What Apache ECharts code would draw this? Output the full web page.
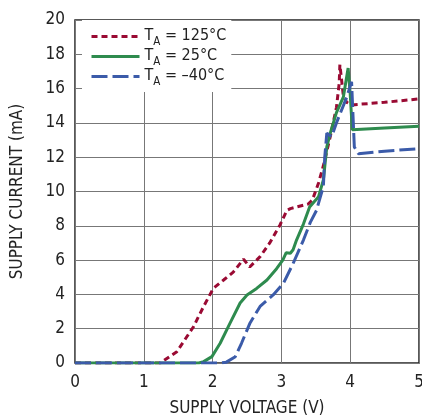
<!DOCTYPE html>
<html><head><meta charset="utf-8">
<script src="https://cdn.jsdelivr.net/npm/echarts@6/dist/echarts.min.js"></script>
<style>html,body{margin:0;padding:0;background:#fff}#c{width:422px;height:417px}</style>
</head><body><div id="c"></div>
<script>
const xTicks = [0, 1, 2, 3, 4, 5];
const yTicks = [0, 2, 4, 6, 8, 10, 12, 14, 16, 18, 20];
const names = ['125°C', '25°C', '–40°C'];

const x125 = [0, 1.0, 1.24, 1.48, 1.72, 1.87, 2.01, 2.16, 2.30, 2.45, 2.54, 2.69, 2.83, 2.98, 3.08, 3.13, 3.39, 3.45, 3.54, 3.61, 3.71, 3.80, 3.84, 3.85, 3.90, 3.95, 4.02, 4.5, 5.0];
const y125 = [0, 0, 0, 0.66, 2.1, 3.3, 4.35, 4.84, 5.3, 6.05, 5.6, 6.2, 7.0, 8.05, 8.9, 9.0, 9.27, 9.5, 10.5, 11.5, 13.2, 14.9, 16.3, 17.4, 15.6, 15.2, 15.05, 15.2, 15.4];

const x25 = [0, 1.8, 1.87, 1.99, 2.11, 2.25, 2.40, 2.50, 2.64, 2.79, 2.93, 3.02, 3.07, 3.13, 3.17, 3.22, 3.32, 3.41, 3.54, 3.61, 3.66, 3.71, 3.80, 3.90, 3.97, 4.0, 4.03, 4.5, 5.0];
const y25 = [0, 0, 0.08, 0.37, 1.15, 2.3, 3.5, 3.97, 4.35, 4.84, 5.5, 6.0, 6.43, 6.4, 6.6, 7.17, 8.1, 9.1, 9.7, 10.67, 12.6, 13.4, 14.6, 15.5, 17.2, 15.7, 13.6, 13.7, 13.8];

const xm40 = [0, 2.1, 2.2, 2.33, 2.42, 2.54, 2.69, 2.88, 3.03, 3.17, 3.32, 3.42, 3.51, 3.61, 3.63, 3.66, 3.73, 3.80, 3.95, 4.02, 4.06, 4.12, 4.5, 5.0];
const ym40 = [0, 0, 0.05, 0.37, 1.15, 2.3, 3.3, 3.97, 4.65, 5.8, 7.17, 8.2, 8.9, 10.3, 12.0, 13.4, 13.2, 14.0, 15.5, 16.4, 12.6, 12.2, 12.35, 12.5];

const FONT = "'Liberation Sans Narrow', 'DejaVu Sans Condensed', 'Liberation Sans', sans-serif";
const pairs = (xs, ys) => xs.map((x, i) => [x, ys[i]]);

const chart = echarts.init(document.getElementById('c'), null, {renderer: 'canvas'});
chart.setOption({
  animation: false,
  backgroundColor: '#fff',
  textStyle: {fontFamily: FONT},
  grid: {left: 75, right: 3, top: 20, bottom: 54, containLabel: false, outerBoundsMode: 'none',
         show: true, borderColor: '#222', borderWidth: 1.5, backgroundColor: 'transparent'},
  legend: {
    orient: 'vertical', left: 82, top: 20,
    padding: [8, 5, 4, 8],
    backgroundColor: '#fff',
    itemWidth: 48, itemHeight: 14, itemGap: 0,
    itemStyle: {opacity: 0},
    lineStyle: {width: 3},
    data: names.map(n => ({name: n})),
    formatter: n => '{t|T}{s|A}{t| = ' + n + '}',
    textStyle: {
      fontFamily: FONT, color: '#222',
      rich: {
        t: {fontSize: 16, fontFamily: FONT, color: '#222', lineHeight: 17, verticalAlign: 'top'},
        s: {fontSize: 11.5, fontFamily: FONT, color: '#222', lineHeight: 12, verticalAlign: 'top', padding: [8, 0, 0, 0]}
      }
    }
  },
  xAxis: {
    type: 'value', min: 0, max: 5, interval: 1,
    name: 'SUPPLY VOLTAGE (V)', nameLocation: 'middle', nameGap: 37,
    nameTextStyle: {fontSize: 17, color: '#222', fontFamily: FONT},
    axisLine: {show: false}, axisTick: {show: false},
    axisLabel: {fontSize: 17, color: '#222', margin: 11, fontFamily: FONT, formatter: v => xTicks.includes(v) ? String(v) : ''},
    splitLine: {show: true, lineStyle: {color: '#777', width: 1}}
  },
  yAxis: {
    type: 'value', min: 0, max: 20, interval: 2,
    name: 'SUPPLY CURRENT (mA)', nameLocation: 'middle', nameGap: 49,
    nameTextStyle: {fontSize: 17, color: '#222', fontFamily: FONT},
    axisLine: {show: false}, axisTick: {show: false},
    axisLabel: {fontSize: 17, color: '#222', margin: 10, fontFamily: FONT, formatter: v => yTicks.includes(v) ? String(v) : ''},
    splitLine: {show: true, lineStyle: {color: '#777', width: 1}}
  },
  series: [
    {name: names[0], type: 'line', symbol: 'none', z: 3, data: pairs(x125, y125),
     itemStyle: {color: '#9a0a33'},
     lineStyle: {color: '#9a0a33', width: 3, type: [6, 4], cap: 'butt'}},
    {name: names[1], type: 'line', symbol: 'none', z: 4, data: pairs(x25, y25),
     itemStyle: {color: '#2e8b4e'},
     lineStyle: {color: '#2e8b4e', width: 3, type: 'solid'}},
    {name: names[2], type: 'line', symbol: 'none', z: 5, data: pairs(xm40, ym40),
     itemStyle: {color: '#3b5ba9'},
     lineStyle: {color: '#3b5ba9', width: 3, type: [16, 5], cap: 'butt'}}
  ]
});
</script></body></html>
